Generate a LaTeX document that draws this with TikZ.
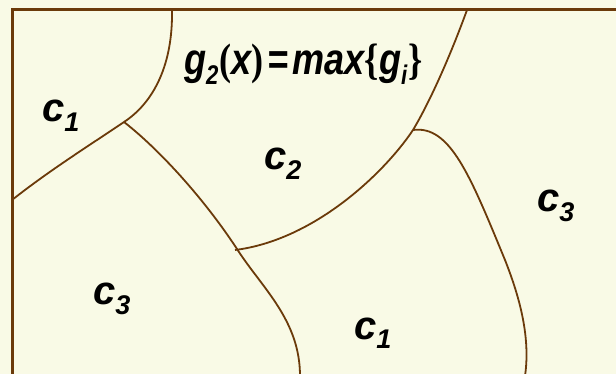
\documentclass[tikz,border=0pt]{standalone}
\usepackage{fontspec}
\setmainfont{Liberation Sans}
\newfontfamily\seriffont{Liberation Serif}
\definecolor{bgyellow}{RGB}{249,250,230}
\definecolor{linebrown}{RGB}{107,58,10}
\newcommand\subtxt[1]{\raisebox{-9.5pt}{\fontsize{27}{27}\selectfont #1}}
\newcommand\clab[1]{\fontsize{40}{40}\selectfont\bfseries\itshape c\subtxt{#1}}
\newcommand\delim[1]{{\seriffont\bfseries\upshape #1}}
\begin{document}
\begin{tikzpicture}[x=1pt,y=-1pt,
  frame/.style={draw=linebrown,line width=3pt},
  curve/.style={draw=linebrown,line width=1.8pt},
  region/.style={inner sep=0pt,anchor=base west,text=black}]
\useasboundingbox (0,0) rectangle (616,374);
\fill[bgyellow] (0,0) rectangle (616,374);
\clip (0,0) rectangle (616,374);
% frame corners
\coordinate (FB) at (12,380);
\coordinate (FC) at (12,10);
\coordinate (FR) at (620,10);
\draw[frame] (FB) -- (FC) -- (FR);
% boundary points
\coordinate (T1) at (172,10);
\coordinate (J1) at (124,122);
\coordinate (L1) at (12,200);
\coordinate (J2) at (237,249);
\coordinate (J2e) at (235,250);
\coordinate (B1) at (300,376);
\coordinate (T2) at (467,10);
\coordinate (J3) at (413,130);
\coordinate (M) at (505,260);
\coordinate (B2) at (525,376);
\draw[curve] (T1) .. controls (173,70) and (150,105) .. (J1) .. controls (90,145) and (50,170) .. (L1);
\draw[curve] (J1) .. controls (160,150) and (205,200) .. (J2) .. controls (262,288) and (300,320) .. (B1);
\draw[curve] (T2) .. controls (445,70) and (425,110) .. (J3) .. controls (385,172) and (315,240) .. (J2e);
\draw[curve] (J3) .. controls (450,125) and (470,175) .. (M) .. controls (518,293) and (531,335) .. (B2);
% labels
\node[region] (c1a) at (42,122) {\clab{1}};
\node[region] (c2) at (264,170) {\clab{2}};
\node[region] (c3a) at (537,212) {\clab{3}};
\node[region] (c3b) at (93,305) {\clab{3}};
\node[region] (c1b) at (354,339) {\clab{1}};
\node[region,xscale=0.82] (fml) at (184,75) {\fontsize{44}{44}\selectfont\bfseries\itshape g\subtxt{2}\kern1pt\delim{(}x\delim{)}\kern5pt=\kern5pt max\delim{\{}g\subtxt{i}\kern2pt\delim{\}}};
\end{tikzpicture}
\end{document}
